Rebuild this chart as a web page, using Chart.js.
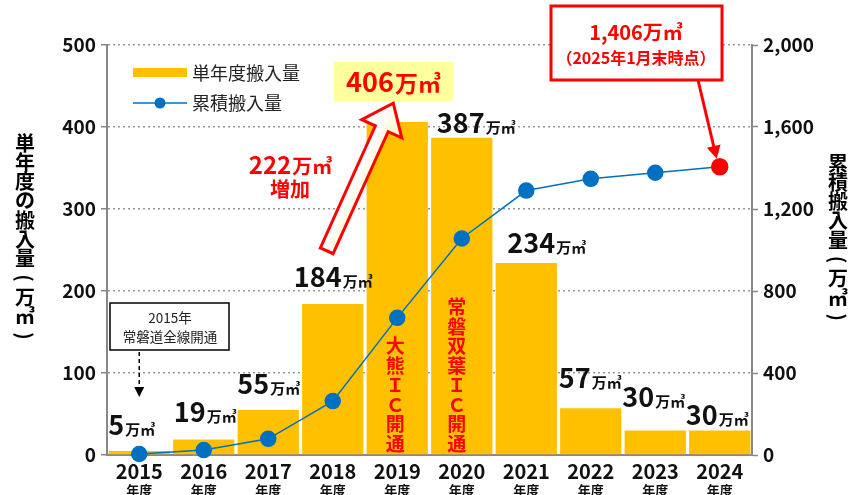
<!DOCTYPE html>
<html><head><meta charset="utf-8">
<script src="https://cdn.jsdelivr.net/npm/chart.js@4"></script>
<style>html,body{margin:0;padding:0;background:#fff}#wrap{width:858px;height:495px;position:relative}</style>
</head><body><div id="wrap"><canvas id="c"></canvas></div>
<script>
// ---- data ----
const years = ['2015','2016','2017','2018','2019','2020','2021','2022','2023','2024'];
const yearUnit = '年度';
const annualVolume = [5, 19, 55, 184, 406, 387, 234, 57, 30, 30];
const cumulativeVolume = [5, 24, 79, 263, 669, 1056, 1290, 1347, 1377, 1406];
const unitLabel = '万㎥';
const seriesNames = ['単年度搬入量', '累積搬入量'];
const leftAxisTitle = '単年度の搬入量(万㎥)';
const rightAxisTitle = '累積搬入量(万㎥)';
const increaseNote = ['222', '増加'];
const peakNote = ['406'];
const totalNote = ['1,406万㎥', '（2025年1月末時点）'];
const openingNote = ['2015年', '常磐道全線開通'];
const icNotes = ['大熊ＩＣ開通', '常磐双葉ＩＣ開通'];

// ---- style ----
const FAM = "'Noto Sans CJK JP','Noto Sans',sans-serif";
const f = (s, w = 'bold') => `${w} ${s}px ${FAM}`;
const BAR = '#FFC000', BLUE = '#0070C0', RED = '#FF0000';
// label offsets (dx from bar centre, dy from bar top) - layout only
const labelDx = [-8, 1, 0, 0, 0, 14, 20, -1, -2, -3];
const labelDy = [-26, -27, -26, -27, 0, -14, -20, -30, -33, -15];
const labelSkip = [4];

function vText(ctx, str, x, y0, step, font, color) {
  ctx.save(); ctx.font = font; ctx.fillStyle = color; ctx.textAlign = 'center'; ctx.textBaseline = 'middle';
  [...str].forEach((ch, i) => {
    const y = y0 + i * step;
    if (ch === '(' || ch === ')') {
      ctx.save(); ctx.translate(x, y); ctx.rotate(Math.PI / 2); ctx.fillText(ch, 0, 0); ctx.restore();
    } else ctx.fillText(ch, x, y);
  });
  ctx.restore();
}
function valueLabel(ctx, num, unit, cx, cy, ns, us, color) {
  ctx.save();
  ctx.font = f(ns); const w1 = ctx.measureText(num).width;
  ctx.font = f(us); const w2 = ctx.measureText(unit).width;
  const x0 = cx - (w1 + w2) / 2, base = cy + ns * 0.36;
  ctx.fillStyle = color; ctx.textAlign = 'left'; ctx.textBaseline = 'alphabetic';
  ctx.font = f(ns); ctx.fillText(num, x0, base);
  ctx.font = f(us); ctx.fillText(unit, x0 + w1 + 1, base);
  ctx.restore();
}
function arrowHead(ctx, x1, y1, x2, y2, len, half, color) {
  const a = Math.atan2(y2 - y1, x2 - x1);
  ctx.save(); ctx.fillStyle = color; ctx.beginPath();
  ctx.moveTo(x2, y2);
  ctx.lineTo(x2 - len * Math.cos(a) + half * Math.sin(a), y2 - len * Math.sin(a) - half * Math.cos(a));
  ctx.lineTo(x2 - len * Math.cos(a) - half * Math.sin(a), y2 - len * Math.sin(a) + half * Math.cos(a));
  ctx.closePath(); ctx.fill(); ctx.restore();
}

const decor = {
  id: 'decor',
  afterDatasetsDraw(chart) {
    const ctx = chart.ctx, xs = chart.scales.x, ys = chart.scales.y, y1 = chart.scales.y1;
    const ca = chart.chartArea;
    // axis titles
    vText(ctx, leftAxisTitle, 25, 143, 19.3, f(20), '#000');
    vText(ctx, rightAxisTitle, 838, 163, 19.3, f(20), '#000');
    // x labels
    ctx.save(); ctx.fillStyle = '#111'; ctx.textAlign = 'center'; ctx.textBaseline = 'middle';
    years.forEach((yr, i) => {
      const x = xs.getPixelForValue(i);
      ctx.font = f(20); ctx.fillText(yr, x, ca.bottom + 16);
      ctx.font = f(13); ctx.fillText(yearUnit, x, ca.bottom + 35);
    });
    ctx.restore();
    // value labels
    annualVolume.forEach((v, i) => {
      if (labelSkip.includes(i)) return;
      valueLabel(ctx, String(v), unitLabel, xs.getPixelForValue(i) + labelDx[i], ys.getPixelForValue(v) + labelDy[i], 27, 15, '#111');
    });
    // legend
    ctx.save();
    ctx.fillStyle = BAR; ctx.fillRect(133, 68, 54, 9);
    ctx.strokeStyle = BLUE; ctx.lineWidth = 1.5; ctx.beginPath(); ctx.moveTo(133, 103); ctx.lineTo(187, 103); ctx.stroke();
    ctx.fillStyle = BLUE; ctx.beginPath(); ctx.arc(160, 103, 5.5, 0, Math.PI * 2); ctx.fill();
    ctx.fillStyle = '#222'; ctx.font = f(18, 'normal'); ctx.textBaseline = 'middle'; ctx.textAlign = 'left';
    ctx.fillText(seriesNames[0], 192, 73); ctx.fillText(seriesNames[1], 192, 103);
    ctx.restore();
    // IC notes (vertical, inside bars)
    vText(ctx, icNotes[0], xs.getPixelForValue(4) - 2, 346, 19.5, f(19), RED);
    vText(ctx, icNotes[1], xs.getPixelForValue(5) - 5, 307, 19.5, f(19), RED);
    // hollow arrow
    const tail = { x: xs.getPixelForValue(3) - 6, y: ys.getPixelForValue(249) };
    const tip = { x: xs.getPixelForValue(4) - 4, y: ys.getPixelForValue(429) };
    const dx = tip.x - tail.x, dy = tip.y - tail.y, len = Math.hypot(dx, dy);
    const u = { x: dx / len, y: dy / len }, n = { x: -u.y, y: u.x };
    const w = 7, h = 22, L = 28;
    const base = { x: tip.x - u.x * L, y: tip.y - u.y * L };
    const P = (p, s) => [p.x + n.x * s, p.y + n.y * s];
    const pts = [P(tail, w), P(base, w), P(base, h), [tip.x, tip.y], P(base, -h), P(base, -w), P(tail, -w)];
    ctx.save();
    const g = ctx.createLinearGradient(...P(base, 20), ...P(base, -20));
    g.addColorStop(0, '#fff6b8'); g.addColorStop(0.6, '#ffffff'); g.addColorStop(1, '#ffffff');
    ctx.beginPath(); pts.forEach((p, i) => i ? ctx.lineTo(...p) : ctx.moveTo(...p)); ctx.closePath();
    ctx.fillStyle = g; ctx.fill();
    ctx.strokeStyle = RED; ctx.lineWidth = 3; ctx.lineJoin = 'miter'; ctx.stroke();
    ctx.restore();
    // 222 increase
    valueLabel(ctx, increaseNote[0], unitLabel, 290, 165, 24, 20, RED);
    ctx.save(); ctx.fillStyle = RED; ctx.font = f(20); ctx.textAlign = 'center'; ctx.textBaseline = 'middle';
    ctx.fillText(increaseNote[1], 290, 189); ctx.restore();
    // 406 box
    ctx.save(); ctx.fillStyle = '#FFFF9E'; ctx.fillRect(334, 62, 119, 39); ctx.restore();
    valueLabel(ctx, peakNote[0], unitLabel, 393, 82, 27, 23, RED);
    // total box
    ctx.save();
    ctx.fillStyle = '#fff'; ctx.fillRect(551, 6, 171, 74);
    ctx.strokeStyle = RED; ctx.lineWidth = 3; ctx.strokeRect(551, 6, 171, 74);
    ctx.fillStyle = RED; ctx.textAlign = 'center'; ctx.textBaseline = 'middle';
    ctx.font = f(20); ctx.fillText(totalNote[0], 636, 32);
    ctx.font = f(16); ctx.fillText(totalNote[1], 636, 58);
    const px = xs.getPixelForValue(9), py = y1.getPixelForValue(cumulativeVolume[9]);
    ctx.strokeStyle = RED; ctx.lineWidth = 3; ctx.beginPath(); ctx.moveTo(698, 80); ctx.lineTo(px - 5, py - 16); ctx.stroke();
    arrowHead(ctx, 698, 80, px - 3, py - 8, 13, 7, RED);
    ctx.restore();
    // opening note box
    ctx.save();
    ctx.fillStyle = '#fff'; ctx.fillRect(110, 303, 119, 47);
    ctx.strokeStyle = '#000'; ctx.lineWidth = 1.5; ctx.strokeRect(110, 303, 119, 47);
    ctx.fillStyle = '#222'; ctx.font = f(13.5, 'normal'); ctx.textAlign = 'center'; ctx.textBaseline = 'middle';
    ctx.fillText(openingNote[0], 170, 318); ctx.fillText(openingNote[1], 170, 337);
    const ax = xs.getPixelForValue(0);
    ctx.setLineDash([4, 3]); ctx.lineWidth = 1.5; ctx.beginPath(); ctx.moveTo(ax, 352); ctx.lineTo(ax, 388); ctx.stroke();
    ctx.setLineDash([]);
    arrowHead(ctx, ax, 352, ax, 397, 10, 5, '#000');
    ctx.restore();
  }
};

new Chart(document.getElementById('c'), {
  data: {
    labels: years,
    datasets: [
      { type: 'line', label: seriesNames[1], data: cumulativeVolume, yAxisID: 'y1', order: 1,
        borderColor: BLUE, borderWidth: 1.5, tension: 0,
        pointBackgroundColor: cumulativeVolume.map((v, i) => i === cumulativeVolume.length - 1 ? RED : BLUE),
        pointBorderColor: cumulativeVolume.map((v, i) => i === cumulativeVolume.length - 1 ? RED : BLUE),
        pointRadius: cumulativeVolume.map((v, i) => i === cumulativeVolume.length - 1 ? 8 : 7.5), clip: false },
      { type: 'bar', label: seriesNames[0], data: annualVolume, yAxisID: 'y', order: 2,
        backgroundColor: BAR, categoryPercentage: 1, barPercentage: 0.95 }
    ]
  },
  options: {
    responsive: true, maintainAspectRatio: false, animation: false,
    layout: { padding: { top: 45, left: 0, right: 0, bottom: 0 } },
    plugins: { legend: { display: false }, tooltip: { enabled: false } },
    scales: {
      x: { grid: { display: false }, border: { color: '#888', width: 2 }, ticks: { display: false },
           afterFit: s => { s.height = 40; } },
      y: { position: 'left', min: 0, max: 500, ticks: { stepSize: 100, color: '#111', font: { family: FAM, size: 19, weight: 'bold' }, padding: 5 },
           grid: { color: '#999', lineWidth: 1.5, tickLength: 6, tickColor: '#888', tickWidth: 1.5 },
           border: { color: '#888', width: 2, dash: [2, 3] },
           afterFit: s => { s.width = 107; } },
      y1: { position: 'right', min: 0, max: 2000, ticks: { stepSize: 400, color: '#111', font: { family: FAM, size: 19, weight: 'bold' }, padding: 5,
             callback: v => v.toLocaleString('en-US') },
           grid: { drawOnChartArea: false, tickLength: 6, tickColor: '#888', tickWidth: 1.5 },
           border: { color: '#888', width: 2 },
           afterFit: s => { s.width = 106; } }
    }
  },
  plugins: [decor]
});
</script></body></html>
